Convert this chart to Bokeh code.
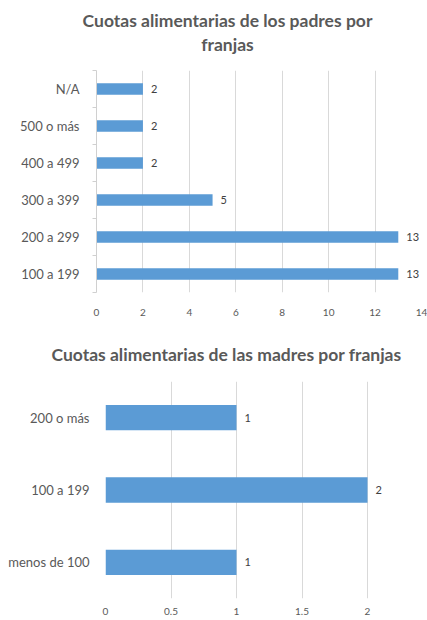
from bokeh.plotting import figure
from bokeh.models import ColumnDataSource, Range1d, FixedTicker, NumeralTickFormatter
from bokeh.layouts import column
from bokeh.embed import file_html
from bokeh.resources import INLINE
from bokeh.core.properties import value

# ---- data (listed bottom to top) ----
padres_categories = ["100 a 199", "200 a 299", "300 a 399", "400 a 499", "500 o más", "N/A"]
padres_values = [13, 13, 5, 2, 2, 2]
padres_xticks = [0, 2, 4, 6, 8, 10, 12, 14]
padres_title = ["Cuotas alimentarias de los padres por", "franjas"]

madres_categories = ["menos de 100", "100 a 199", "200 o más"]
madres_values = [1, 2, 1]
madres_xticks = [0, 0.5, 1, 1.5, 2, 2.5]
madres_title = ["Cuotas alimentarias de las madres por franjas"]

BAR = "#5B9BD5"
GRID = "#D9D9D9"
AXIS = "#D0D0D0"
TXT = "#595959"
LBL = "#404040"
FONT = "Lato"
W = 427


def make_title(lines, height, center_x, centers_from_top):
    """A header strip: 1 data unit = 1 pixel, so lines sit at exact offsets."""
    t = figure(width=W, height=height, output_backend="svg",
               toolbar_location=None, tools="",
               x_range=Range1d(0, W), y_range=Range1d(0, height),
               x_axis_type=None, y_axis_type=None,
               min_border=0, frame_align=False)
    t.outline_line_color = None
    t.grid.visible = False
    src = ColumnDataSource(dict(
        x=[center_x] * len(lines),
        y=[height - c for c in centers_from_top],
        t=lines))
    t.text(x="x", y="y", text="t", source=src, text_align="center",
           text_baseline="middle", text_font=value(FONT),
           text_font_style="bold", text_font_size="17.5px", text_color=TXT)
    return t


def make_chart(categories, values, xticks, x_end, height, borders,
               bar_h, boundary_ticks, label_standoff, x_standoff, x_fmt):
    n = len(categories)
    pos = list(range(1, n + 1))
    p = figure(width=W, height=height, output_backend="svg",
               toolbar_location=None, tools="",
               x_range=Range1d(0, x_end), y_range=Range1d(0.5, n + 0.5),
               min_border_left=borders[0], min_border_right=borders[1],
               min_border_top=borders[2], min_border_bottom=borders[3],
               frame_align=False)
    p.outline_line_color = None
    p.background_fill_color = "white"
    p.border_fill_color = "white"

    src = ColumnDataSource(dict(y=pos, v=values, t=[str(v) for v in values]))
    p.hbar(y="y", right="v", left=0, height=bar_h, source=src,
           fill_color=BAR, line_color=None)
    p.text(x="v", y="y", text="t", source=src, x_offset=8,
           text_baseline="middle", text_align="left",
           text_font=value(FONT), text_font_size="11px", text_color=LBL)

    # x axis
    p.xaxis.ticker = FixedTicker(ticks=xticks)
    p.xaxis.formatter = NumeralTickFormatter(format=x_fmt)
    p.xaxis.axis_line_color = None
    p.xaxis.major_tick_line_color = None
    p.xaxis.minor_tick_line_color = None
    p.xaxis.major_tick_out = 0
    p.xaxis.major_tick_in = 0
    p.xaxis.major_label_standoff = x_standoff
    p.xaxis.major_label_text_font = FONT
    p.xaxis.major_label_text_font_size = "10px"
    p.xaxis.major_label_text_color = TXT
    p.xgrid.ticker = FixedTicker(ticks=xticks)
    p.xgrid.grid_line_color = GRID
    p.ygrid.visible = False

    # y axis
    bounds = [i + 0.5 for i in range(0, n + 1)]
    p.yaxis.ticker = FixedTicker(ticks=pos, minor_ticks=bounds)
    p.yaxis.major_label_overrides = {i: c for i, c in zip(pos, categories)}
    p.yaxis.major_tick_line_color = None
    p.yaxis.major_tick_out = 0
    p.yaxis.major_tick_in = 0
    if boundary_ticks:
        p.yaxis.axis_line_color = AXIS
        p.yaxis.minor_tick_line_color = AXIS
        p.yaxis.minor_tick_out = 4
        p.yaxis.minor_tick_in = 0
    else:
        p.yaxis.axis_line_color = None
        p.yaxis.minor_tick_line_color = None
    p.yaxis.major_label_standoff = label_standoff
    p.yaxis.major_label_text_font = FONT
    p.yaxis.major_label_text_font_size = "13px"
    p.yaxis.major_label_text_color = TXT
    return p


t1 = make_title(padres_title, 62, 227, [20, 44])
p1 = make_chart(padres_categories, padres_values, padres_xticks, 14,
                263, (96, 6, 8, 33), 0.31, True, 13, 16, "0")
t2 = make_title(madres_title, 48, 226, [29])
p2 = make_chart(madres_categories, madres_values, madres_xticks, 2.458,
                246, (105, 0, 8, 21), 0.35, False, 12, 9, "0.[0]")

layout = column(t1, p1, t2, p2, spacing=0)
open("out.html", "w").write(file_html(layout, INLINE))
